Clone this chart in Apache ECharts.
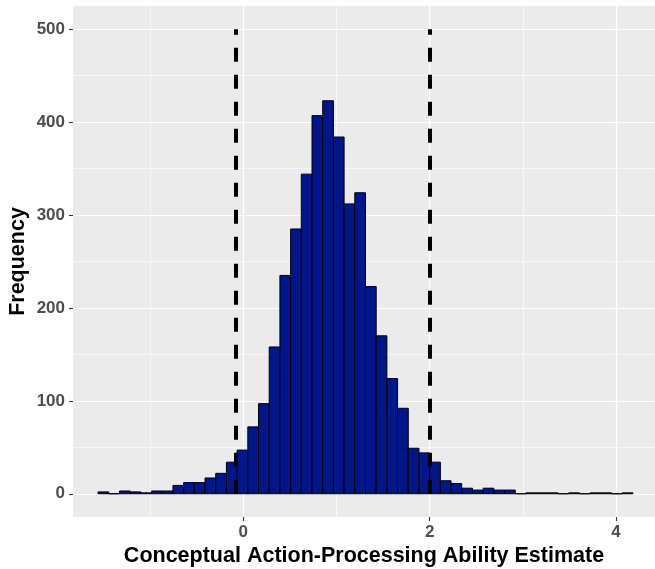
<!DOCTYPE html>
<html>
<head>
<meta charset="utf-8">
<script src="https://cdn.jsdelivr.net/npm/echarts@6/dist/echarts.min.js"></script>
<style>
  html, body { margin: 0; padding: 0; background: #ffffff; }
  #chart { width: 655px; height: 569px; }
</style>
</head>
<body>
<div id="chart"></div>
<script>
// Histogram bins: left edge of the first bin and the common bin width
const binStart = -1.559;
const binWidth = 0.1148;
// Frequency in each of the 50 bins
const counts = [2, 0, 3, 2, 1, 3, 3, 9, 12, 12, 17, 22, 34, 47, 72, 97, 158, 235, 285, 344,
                407, 423, 384, 312, 324, 223, 170, 124, 92, 49, 44, 34, 14, 11, 6, 4, 6, 4, 4, 0,
                1, 1, 1, 0, 1, 0, 1, 1, 0, 1];
// Cut-off markers drawn as dashed vertical segments
const cutoffs = [-0.08, 2.0];
const cutoffHeight = 500;
// Axis ticks and grid lines
const xTicks = [0, 2, 4];
const xMinor = [-1, 1, 3];
const yTicks = [0, 100, 200, 300, 400, 500];
const yMinor = [50, 150, 250, 350, 450];

const binData = counts.map((c, i) => [binStart + i * binWidth, binStart + (i + 1) * binWidth, c]);

const chart = echarts.init(document.getElementById('chart'), null, { renderer: 'canvas' });

const labelFont = { fontFamily: 'Liberation Sans, Arial, sans-serif', fontWeight: 'bold' };

chart.setOption({
  animation: false,
  grid: {
    left: 73, right: 0, top: 6, height: 511,
    containLabel: false, outerBoundsMode: 'none',
    show: true, backgroundColor: '#EBEBEB', borderWidth: 0
  },
  xAxis: {
    type: 'value', min: -1.828, max: 4.418,
    name: 'Conceptual Action-Processing Ability Estimate',
    nameLocation: 'middle', nameGap: 28, nameMoveOverlap: false,
    nameTextStyle: Object.assign({ color: '#000000', fontSize: 21.5 }, labelFont),
    axisLine: { show: false, onZero: false },
    axisTick: { show: true, length: 4, customValues: xTicks, lineStyle: { color: '#333333', width: 1.1 } },
    axisLabel: Object.assign({ customValues: xTicks, color: '#4D4D4D', fontSize: 17, margin: 7 }, labelFont),
    splitLine: { show: true, lineStyle: { color: '#ffffff', width: 1.2 } }
  },
  yAxis: {
    type: 'value', min: -25, max: 525,
    name: 'Frequency',
    nameLocation: 'middle', nameGap: 44, nameRotate: 90, nameMoveOverlap: false,
    nameTextStyle: Object.assign({ color: '#000000', fontSize: 21.5 }, labelFont),
    axisLine: { show: false, onZero: false },
    axisTick: { show: true, length: 4, customValues: yTicks, lineStyle: { color: '#333333', width: 1.1 } },
    axisLabel: Object.assign({ customValues: yTicks, color: '#4D4D4D', fontSize: 17, margin: 8 }, labelFont),
    splitLine: { show: true, lineStyle: { color: '#ffffff', width: 1.2 } }
  },
  series: [
    {
      // minor grid lines, kept beneath the bars
      type: 'line', data: [], z: 1, silent: true,
      markLine: {
        z: 1, silent: true, symbol: 'none', animation: false,
        label: { show: false },
        lineStyle: { color: '#ffffff', width: 0.6, type: 'solid' },
        data: xMinor.map(v => ({ xAxis: v })).concat(yMinor.map(v => ({ yAxis: v })))
      }
    },
    {
      type: 'custom', z: 3,
      data: binData,
      encode: { x: [0, 1], y: 2 },
      renderItem: function (params, api) {
        const p0 = api.coord([api.value(0), api.value(2)]);
        const p1 = api.coord([api.value(1), 0]);
        return {
          type: 'rect',
          shape: { x: p0[0], y: p0[1], width: p1[0] - p0[0], height: p1[1] - p0[1] },
          style: { fill: '#001689', stroke: '#000000', lineWidth: 1 }
        };
      }
    },
    {
      // dashed cut-off segments
      type: 'line', data: [], z: 6, silent: true,
      markLine: {
        z: 6, silent: true, symbol: 'none', animation: false,
        label: { show: false },
        lineStyle: { color: '#000000', width: 4, type: [14, 13] },
        data: cutoffs.map(v => [{ coord: [v, 0] }, { coord: [v, cutoffHeight] }])
      }
    }
  ]
});
</script>
</body>
</html>
